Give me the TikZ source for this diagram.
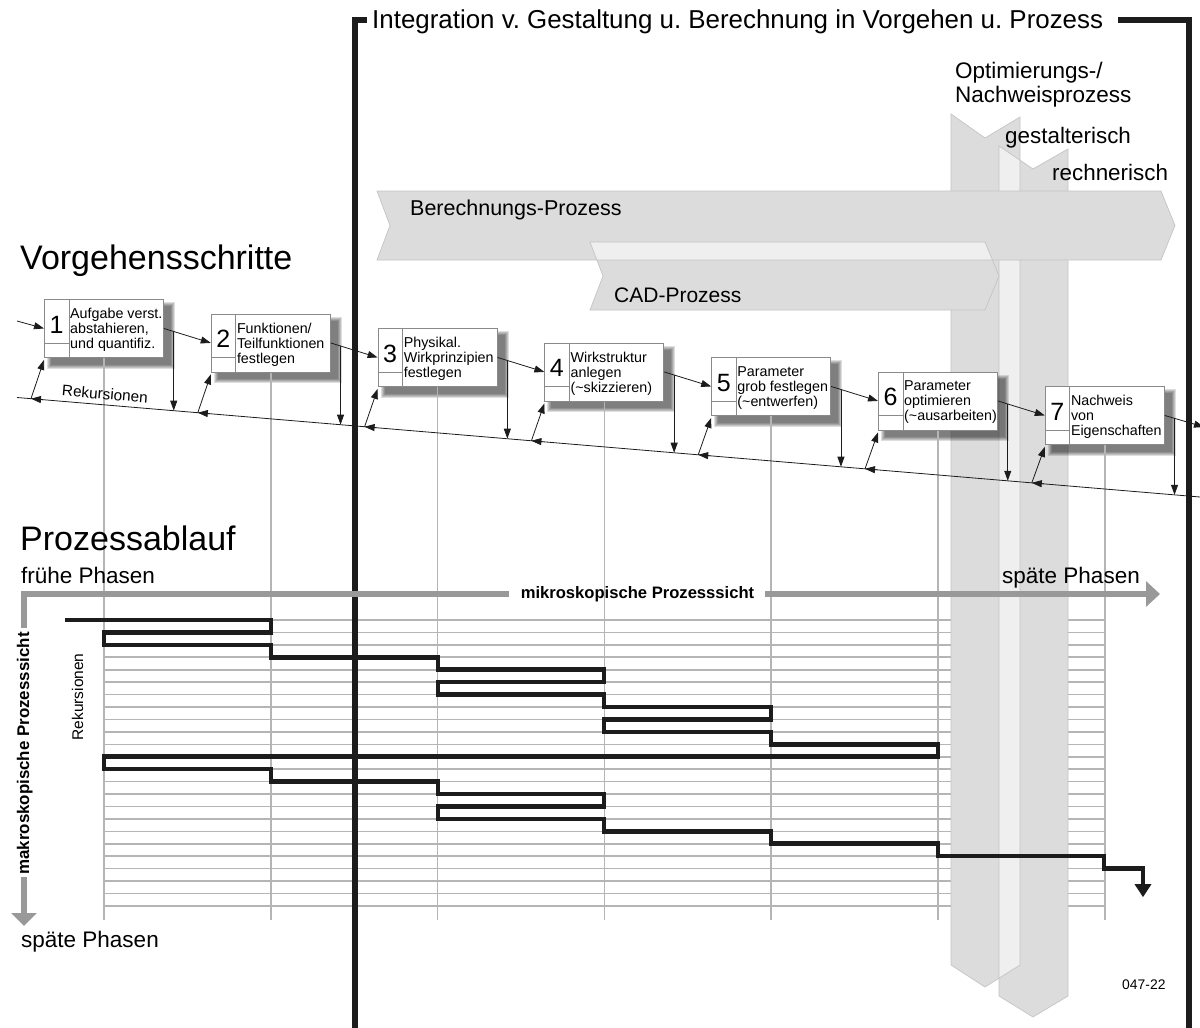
\documentclass[tikz,border=0pt]{standalone}
\usepackage{fontspec}
\setmainfont{Liberation Sans}
\frenchspacing
\usetikzlibrary{arrows.meta,calc}
\pgfdeclarelayer{bg}
\pgfdeclarelayer{mid}
\pgfdeclarelayer{fg}
\pgfsetlayers{bg,mid,main,fg}
\definecolor{bandgray}{HTML}{DCDCDC}
\definecolor{bandlight}{HTML}{EFEFEF}
\definecolor{bandedge}{HTML}{C4C4C4}
\definecolor{gridgray}{HTML}{B5B5B5}
\definecolor{boxedge}{HTML}{8A8A8A}
\definecolor{phasegray}{HTML}{999999}
\definecolor{ink}{HTML}{1C1C1C}

\begin{document}
\begin{tikzpicture}[x=1pt,y=-1pt,
  gridline/.style={draw=gridgray, line width=1.6pt},
  band/.style={fill=bandgray},
  shapeedge/.style={draw=bandedge, line width=0.7pt},
  stepbox/.style={draw=boxedge, line width=0.9pt, fill=white, minimum width=119pt,
    minimum height=58pt, inner sep=0pt, anchor=north west},
  divider/.style={draw=boxedge, line width=0.9pt},
  stepnum/.style={anchor=base, inner sep=0pt, font=\fontsize{25}{30}\selectfont},
  steptext/.style={anchor=north west, inner sep=0pt, align=left,
    font=\fontsize{14.3}{15}\selectfont},
  conn/.style={draw=ink, line width=0.8pt, -{Triangle[length=10pt,width=7pt]}},
  plainline/.style={draw=ink, line width=0.8pt},
  stair/.style={draw=ink, line width=4.6pt, miter limit=10},
  phasearrow/.style={draw=phasegray, line width=6.5pt},
  bracket/.style={draw=ink, line width=5.5pt},
  label/.style={inner sep=0pt, anchor=base west},
  bandA/.style={insert path={(951,114) -- (985,138) -- (1020,117) -- (1020,965) -- (985,987) -- (951,965) -- cycle}},
  bandB/.style={insert path={(999,146) -- (1033,169) -- (1068,149) -- (1068,996) -- (1033,1017) -- (999,996) -- cycle}},
  calcarrow/.style={insert path={(377,191) -- (1161,191) -- (1175,225.5) -- (1161,260) -- (377,260) -- (390,225.5) -- cycle}},
  cadarrow/.style={insert path={(590,242) -- (985,242) -- (999,276) -- (985,310) -- (590,310) -- (603,276) -- cycle}},
]
\useasboundingbox (0,0) rectangle (1200,1028);
\clip (0,0) rectangle (1200,1028);

% ---------- process steps ----------
\foreach \i/\txt in {
  1/{Aufgabe verst.\\abstahieren,\\und quantifiz.},
  2/{Funktionen/\\Teilfunktionen\\festlegen},
  3/{Physikal.\\Wirkprinzipien\\festlegen},
  4/{Wirkstruktur\\anlegen\\(\textasciitilde skizzieren)},
  5/{Parameter\\grob festlegen\\(\textasciitilde entwerfen)},
  6/{Parameter\\optimieren\\(\textasciitilde ausarbeiten)},
  7/{Nachweis\\von\\Eigenschaften}}{
  \pgfmathsetmacro\bx{44+166.8*(\i-1)}
  \pgfmathsetmacro\by{299+14.5*(\i-1)}
  \node[stepbox] (s\i) at (\bx,\by) {};
  \draw[divider] ($(s\i.north west)+(25,0)$) -- ($(s\i.south west)+(25,0)$);
  \draw[divider] ($(s\i.north west)+(0,44)$) -- ($(s\i.north west)+(25,44)$);
  \node[stepnum] at ($(s\i.north west)+(12.5,34)$) {\i};
  \node[steptext] at ($(s\i.north west)+(26,9.2)$) {\txt};
}

% ---------- flow between the steps ----------
\coordinate (in0) at (17,321);
\coordinate (out7) at (1204,427);
\coordinate (r0) at (17,397.5);
\coordinate (r1) at (1200,497);
\draw[conn] (in0) -- (s1.west);
\foreach \i/\j in {1/2,2/3,3/4,4/5,5/6,6/7}{
  \draw[conn] (s\i.east) -- coordinate[pos=0.21] (d\i) (s\j.west);
}
\draw[conn] (s7.east) -- coordinate[pos=0.25] (d7) (out7);

% recursion line with its feedback arrows
\draw[plainline] (r0) -- (r1);
\foreach \i in {1,...,7}{
  \pgfmathsetmacro\dx{44+166.8*(\i-1)+129}
  \pgfmathsetmacro\dy{397.5+0.0841*(\dx-17)}
  \draw[conn] (d\i) -- (d\i |- 0,\dy);
  \pgfmathsetmacro\ax{44+166.8*(\i-1)-13}
  \pgfmathsetmacro\ay{397.5+0.0841*(\ax-17)}
  \pgfmathsetmacro\bxx{\ax+12}
  \pgfmathsetmacro\byy{397.5+0.0841*(\bxx-17)}
  \coordinate (ra\i) at (\ax,\ay);
  \coordinate (rb\i) at (\bxx,\byy);
  \draw[conn] (rb\i) -- (ra\i);
  \draw[conn] (ra\i) -- ($(s\i.south west)+(0,2)$);
}

% ---------- process flow (macro view) ----------
\begin{scope}[yshift=-620pt, y=-12.43pt]
  \draw[stair] (65,0) -- (271,0) -- (271,1) -- (104,1) -- (104,2) -- (271,2)
    -- (271,3) -- (438,3) -- (438,4) -- (604,4) -- (604,5) -- (438,5) -- (438,6)
    -- (604,6) -- (604,7) -- (771,7) -- (771,8) -- (604,8) -- (604,9) -- (771,9)
    -- (771,10) -- (938,10) -- (938,11) -- (104,11) -- (104,12) -- (271,12)
    -- (271,13) -- (438,13) -- (438,14) -- (604,14) -- (604,15) -- (438,15)
    -- (438,16) -- (604,16) -- (604,17) -- (771,17) -- (771,18) -- (938,18)
    -- (938,19) -- (1104,19) -- (1104,20) -- (1143,20) -- (1143,20.6);
  \draw[draw=ink, line width=4.6pt, -{Triangle[length=13pt,width=16pt]}]
    (1143,20.4) -- (1143,22.3);
\end{scope}

% ---------- background: grid, bands, process arrows ----------
\begin{pgfonlayer}{bg}
  \begin{scope}[yshift=-620pt, y=-12.43pt]
    \foreach \k in {0,...,23} \draw[gridline] (104,\k) -- (1104,\k);
  \end{scope}
  \fill[band, bandA];
  \fill[band, bandB];
  \begin{scope}
    \clip[bandA];
    \fill[bandlight, bandB];
  \end{scope}
  \path[shapeedge, bandA];
  \path[shapeedge, bandB];
  \fill[band, calcarrow];
  \fill[band, cadarrow];
  \begin{scope}
    \clip[calcarrow];
    \fill[bandlight, cadarrow];
  \end{scope}
  \path[shapeedge, calcarrow];
  \path[shapeedge, cadarrow];
\end{pgfonlayer}

% ---------- shadows and phase lines ----------
\begin{pgfonlayer}{mid}
  \foreach \i in {1,...,7}{
    \foreach \r in {4,3,2,1,0}{
      \fill[black, opacity=0.13] ($(s\i.north west)+(7-\r,7-\r)$)
        rectangle ($(s\i.south east)+(7+\r,7+\r)$);
    }
    \draw[gridline] (s\i.south) -- (s\i.south |- 0,920);
  }
\end{pgfonlayer}

% ---------- frame, axes and labels ----------
\begin{pgfonlayer}{fg}
  \node[label, font=\fontsize{25.9}{30}\selectfont] (title) at (372,28)
    {Integration v. Gestaltung u. Berechnung in Vorgehen u. Prozess};
  \draw[bracket] (355,1028) -- (355,20) -- (367,20);
  \draw[bracket] (1118,20) -- (1189,20) -- (1189,1028);

  \draw[phasearrow] (24,628) -- (24,594) -- (509,594);
  \draw[phasearrow, -{Triangle[length=14pt,width=25pt]}] (765,594) -- (1160,594);
  \draw[phasearrow, -{Triangle[length=13pt,width=25pt]}] (24,877) -- (24,926);

  \node[label, font=\fontsize{34}{40}\selectfont] (vs) at (20,269) {Vorgehensschritte};
  \node[label, font=\fontsize{34}{40}\selectfont] (pa) at (20,550) {Prozessablauf};
  \node[label, font=\fontsize{22.5}{27}\selectfont] (fp) at (21,583) {frühe Phasen};
  \node[label, font=\fontsize{22.5}{27}\selectfont] (spl) at (21,947) {späte Phasen};
  \node[label, font=\fontsize{22.5}{27}\selectfont] (spr) at (1002,583) {späte Phasen};
  \node[inner sep=0pt, anchor=base, font=\bfseries\fontsize{16.6}{20}\selectfont]
    (mikro) at (637.5,598) {mikroskopische Prozesssicht};
  \node[inner sep=0pt, anchor=base, rotate=90, font=\bfseries\fontsize{16.9}{20}\selectfont]
    (makro) at (29,753.5) {makroskopische Prozesssicht};
  \node[inner sep=0pt, anchor=base, rotate=90, font=\fontsize{15.5}{18}\selectfont]
    (rekv) at (83,697) {Rekursionen};
  \node[inner sep=0pt, rotate=-4.8, font=\fontsize{15.3}{18}\selectfont]
    (rekh) at (105,394) {Rekursionen};
  \node[label, font=\fontsize{21.5}{26}\selectfont] (bp) at (410,215) {Berechnungs-Prozess};
  \node[label, font=\fontsize{21}{26}\selectfont] (cp) at (614,302) {CAD-Prozess};
  \node[anchor=north west, inner sep=0pt, align=left, font=\fontsize{22.5}{24}\selectfont]
    (opt) at (955,61.8) {Optimierungs-/\\Nachweisprozess};
  \node[label, font=\fontsize{22.4}{27}\selectfont] (ge) at (1005,143) {gestalterisch};
  \node[label, font=\fontsize{22.4}{27}\selectfont] (re) at (1052,180) {rechnerisch};
  \node[label, font=\fontsize{13.9}{16}\selectfont] (id) at (1122,989) {047-22};
\end{pgfonlayer}
\end{tikzpicture}
\end{document}
